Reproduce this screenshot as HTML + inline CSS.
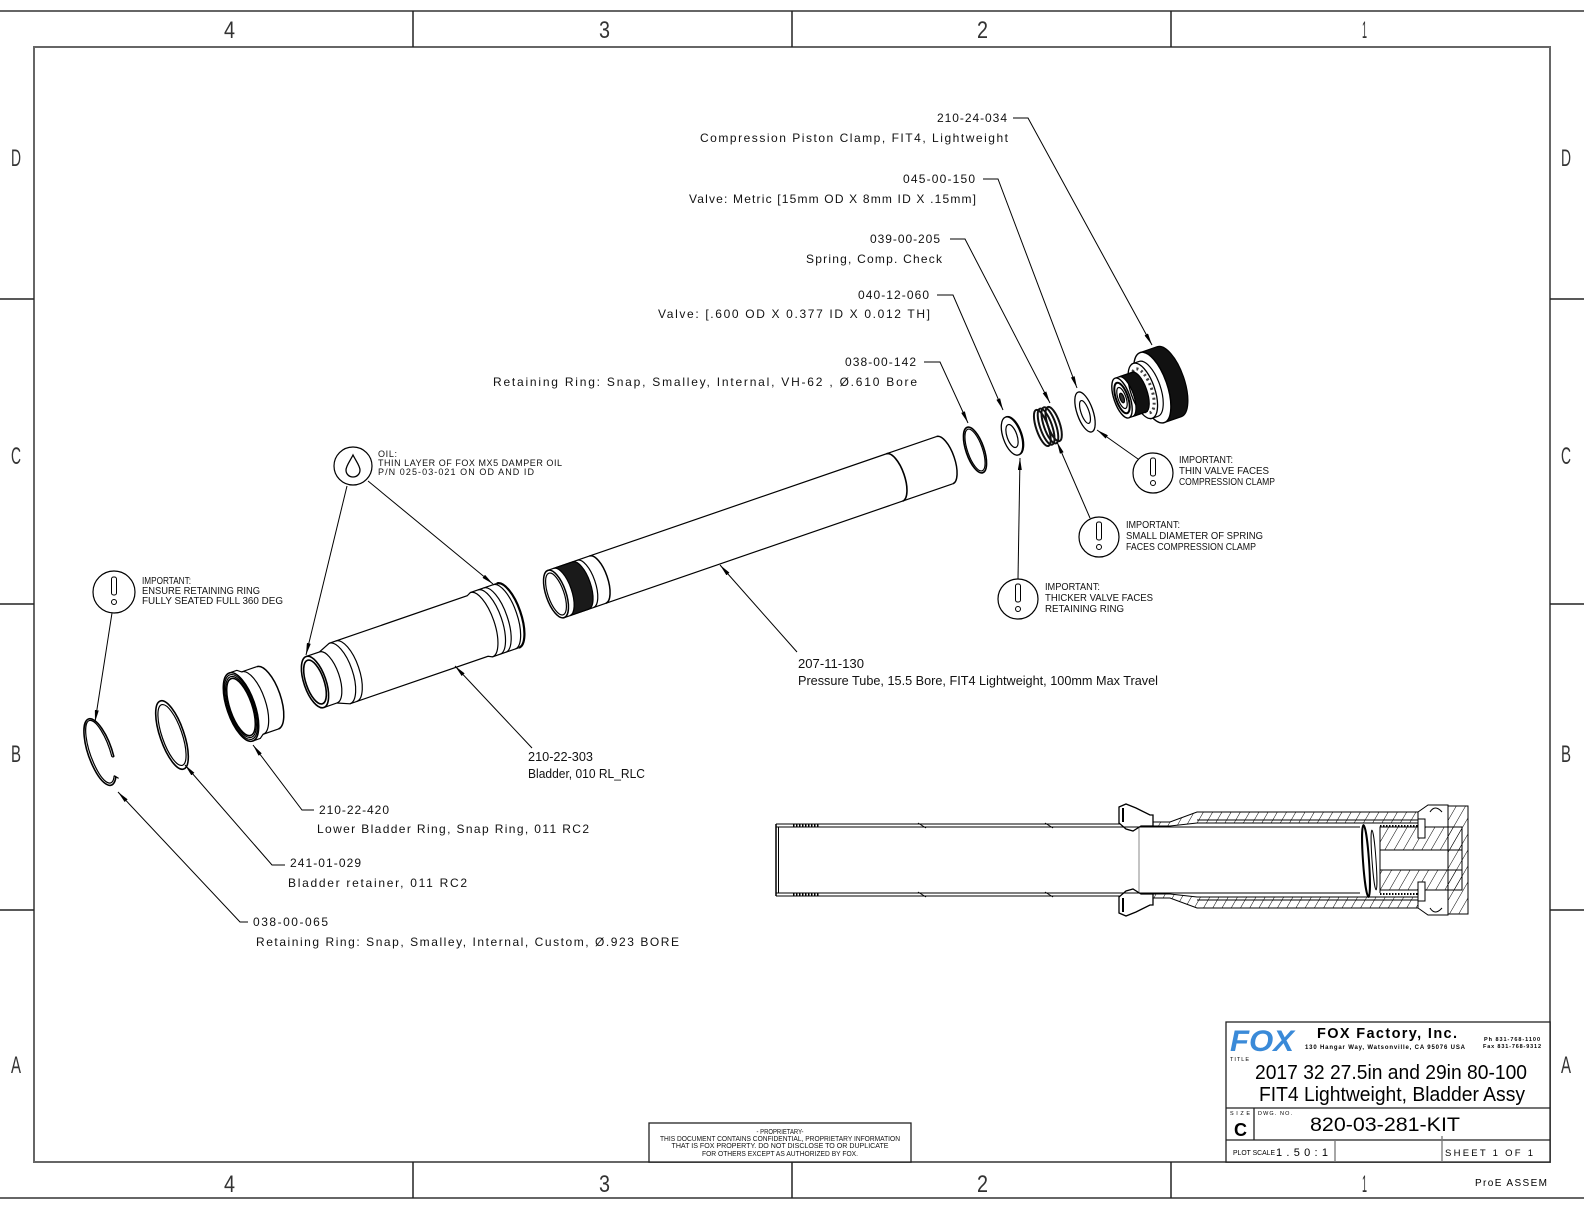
<!DOCTYPE html>
<html><head><meta charset="utf-8"><style>
html,body{margin:0;padding:0;background:#fff;}
svg{display:block;}
.m{font-family:"Liberation Sans",sans-serif;font-size:12px;fill:#111;}
.b{font-family:"Liberation Sans",sans-serif;font-size:10px;fill:#111;}
.o{font-family:"Liberation Sans",sans-serif;font-size:9px;fill:#111;}
.y{font-family:"Liberation Sans",sans-serif;font-size:13px;fill:#111;}
.lab{font-family:"Liberation Sans",sans-serif;font-size:24px;fill:#333;}
</style></head><body>
<svg width="1584" height="1224" viewBox="0 0 1584 1224" xmlns="http://www.w3.org/2000/svg">
<defs>
<marker id="ah" viewBox="0 0 12 4" refX="12" refY="2" markerWidth="12" markerHeight="4" orient="auto" markerUnits="userSpaceOnUse"><path d="M0,0 L12,2 L0,4 Z" fill="#000"/></marker>
<pattern id="hatch" width="8" height="8" patternUnits="userSpaceOnUse" patternTransform="rotate(30)"><line x1="0" y1="0" x2="0" y2="8" stroke="#000" stroke-width="1"/></pattern>
</defs>
<rect width="1584" height="1224" fill="#fff"/>

<!-- Frame -->
<g stroke="#666" stroke-width="2" fill="none">
<line x1="0" y1="11" x2="1584" y2="11"/>
<line x1="0" y1="1198" x2="1584" y2="1198"/>
<rect x="34" y="47" width="1516" height="1115"/>
</g>
<g stroke="#222" stroke-width="1.5">
<line x1="413" y1="11" x2="413" y2="47"/><line x1="792" y1="11" x2="792" y2="47"/><line x1="1171" y1="11" x2="1171" y2="47"/>
<line x1="413" y1="1162" x2="413" y2="1198"/><line x1="792" y1="1162" x2="792" y2="1198"/><line x1="1171" y1="1162" x2="1171" y2="1198"/>
<line x1="0" y1="299" x2="34" y2="299"/><line x1="0" y1="604" x2="34" y2="604"/><line x1="0" y1="910" x2="34" y2="910"/>
<line x1="1550" y1="299" x2="1584" y2="299"/><line x1="1550" y1="604" x2="1584" y2="604"/><line x1="1550" y1="910" x2="1584" y2="910"/>
</g>
<g class="lab">
<text x="224" y="38" textLength="11" lengthAdjust="spacingAndGlyphs" class="lab">4</text>
<text x="599" y="38" textLength="11" lengthAdjust="spacingAndGlyphs" class="lab">3</text>
<text x="977" y="38" textLength="11" lengthAdjust="spacingAndGlyphs" class="lab">2</text>
<text x="1362" y="38" textLength="5" lengthAdjust="spacingAndGlyphs" class="lab">1</text>
<text x="224" y="1192" textLength="11" lengthAdjust="spacingAndGlyphs" class="lab">4</text>
<text x="599" y="1192" textLength="11" lengthAdjust="spacingAndGlyphs" class="lab">3</text>
<text x="977" y="1192" textLength="11" lengthAdjust="spacingAndGlyphs" class="lab">2</text>
<text x="1362" y="1192" textLength="5" lengthAdjust="spacingAndGlyphs" class="lab">1</text>
<text x="11" y="166" textLength="10" lengthAdjust="spacingAndGlyphs" class="lab">D</text>
<text x="11" y="464" textLength="10" lengthAdjust="spacingAndGlyphs" class="lab">C</text>
<text x="11" y="762" textLength="10" lengthAdjust="spacingAndGlyphs" class="lab">B</text>
<text x="11" y="1073" textLength="10" lengthAdjust="spacingAndGlyphs" class="lab">A</text>
<text x="1561" y="166" textLength="10" lengthAdjust="spacingAndGlyphs" class="lab">D</text>
<text x="1561" y="464" textLength="10" lengthAdjust="spacingAndGlyphs" class="lab">C</text>
<text x="1561" y="762" textLength="10" lengthAdjust="spacingAndGlyphs" class="lab">B</text>
<text x="1561" y="1073" textLength="10" lengthAdjust="spacingAndGlyphs" class="lab">A</text>
</g>

<!-- Upper labels -->
<text class="m" x="1007" y="122" text-anchor="end" textLength="70" lengthAdjust="spacing">210-24-034</text>
<text class="m" x="1008" y="142" text-anchor="end" textLength="308" lengthAdjust="spacing">Compression Piston Clamp, FIT4, Lightweight</text>
<text class="m" x="975" y="183" text-anchor="end" textLength="72" lengthAdjust="spacing">045-00-150</text>
<text class="m" x="976" y="203" text-anchor="end" textLength="287" lengthAdjust="spacing">Valve: Metric [15mm OD X 8mm ID X .15mm]</text>
<text class="m" x="940" y="243" text-anchor="end" textLength="70" lengthAdjust="spacing">039-00-205</text>
<text class="m" x="942" y="263" text-anchor="end" textLength="136" lengthAdjust="spacing">Spring, Comp. Check</text>
<text class="m" x="929" y="299" text-anchor="end" textLength="71" lengthAdjust="spacing">040-12-060</text>
<text class="m" x="930" y="318" text-anchor="end" textLength="272" lengthAdjust="spacing">Valve: [.600 OD X 0.377 ID X 0.012 TH]</text>
<text class="m" x="916" y="366" text-anchor="end" textLength="71" lengthAdjust="spacing">038-00-142</text>
<text class="m" x="917" y="386" text-anchor="end" textLength="424" lengthAdjust="spacing">Retaining Ring: Snap, Smalley, Internal, VH-62 , Ø.610 Bore</text>

<!-- Lower-left labels -->
<text class="m" x="319" y="814" textLength="70" lengthAdjust="spacing">210-22-420</text>
<text class="m" x="317" y="833" textLength="272" lengthAdjust="spacing">Lower Bladder Ring, Snap Ring, 011 RC2</text>
<text class="m" x="290" y="867" textLength="71" lengthAdjust="spacing">241-01-029</text>
<text class="m" x="288" y="887" textLength="179" lengthAdjust="spacing">Bladder retainer, 011 RC2</text>
<text class="m" x="253" y="926" textLength="75" lengthAdjust="spacing">038-00-065</text>
<text class="m" x="256" y="946" textLength="423" lengthAdjust="spacing">Retaining Ring: Snap, Smalley, Internal, Custom, Ø.923 BORE</text>

<text class="y" x="798" y="668" textLength="66" lengthAdjust="spacingAndGlyphs">207-11-130</text>
<text class="y" x="798" y="685" textLength="360" lengthAdjust="spacingAndGlyphs">Pressure Tube, 15.5 Bore, FIT4 Lightweight, 100mm Max Travel</text>
<text class="y" x="528" y="761" textLength="65" lengthAdjust="spacingAndGlyphs">210-22-303</text>
<text class="y" x="528" y="778" textLength="117" lengthAdjust="spacingAndGlyphs">Bladder, 010 RL_RLC</text>

<!-- Parts -->
<g stroke="#000" stroke-width="1.2" fill="none">
<!-- pressure tube -->
<g transform="translate(556,594) rotate(-19)">
<path d="M0,-25 L411,-25 M0,25 L411,25"/>
<path d="M411,-25 A10,25 0 0 1 411,25" stroke-width="1.5"/>
<path d="M358,-25 A10,25 0 0 1 358,25" stroke-width="1.6"/>
<path d="M6,-25 L26,-25 A10,25 0 0 1 26,25 L6,25 A10,25 0 0 0 6,-25 Z" fill="#1a1a1a"/>
<path d="M31,-25 A10,25 0 0 1 31,25"/>
<path d="M44,-25 A10,25 0 0 1 44,25" stroke-width="1.5"/>
<ellipse cx="0" cy="0" rx="10" ry="25" fill="#fff" stroke-width="1.5"/>
<ellipse cx="0" cy="0" rx="8" ry="22"/>
</g>
<!-- bladder -->
<g transform="translate(315,682) rotate(-19)">
<path d="M0,-27 L14,-27 L26,-32 L172,-32 L176,-34 L204,-34 M0,27 L14,27 L26,32 L172,32 L176,34 L204,34"/>
<path d="M14,-27 A11,27 0 0 1 14,27"/>
<path d="M26,-32 A13,32 0 0 1 26,32"/>
<path d="M33,-32 A13,32 0 0 1 33,32"/>
<path d="M176,-34 A13,34 0 0 1 176,34"/>
<path d="M184,-34 A13,34 0 0 1 184,34"/>
<path d="M190,-34 A13,34 0 0 1 190,34"/>
<path d="M200,-34 A13,34 0 0 1 200,34"/>
<path d="M204,-34 A13,34 0 0 1 204,34" stroke-width="2.2"/>
<ellipse cx="0" cy="0" rx="11" ry="27" fill="#fff" stroke-width="1.6"/>
<ellipse cx="0" cy="0" rx="9" ry="23" stroke-width="1.6"/>
</g>
<!-- lower bladder ring -->
<g transform="translate(241,707) rotate(-19)">
<path d="M0,-36 L8,-36 L12,-33 L28,-33 M0,36 L8,36 L12,33 L28,33"/>
<path d="M28,-33 A13,33 0 0 1 28,33" stroke-width="1.5"/>
<path d="M12,-33 A13,33 0 0 1 12,33"/>
<ellipse cx="0" cy="0" rx="14" ry="36" fill="#fff" stroke-width="1.6"/>
<ellipse cx="0" cy="0" rx="13" ry="34"/>
<ellipse cx="0" cy="0" rx="12" ry="32"/>
<ellipse cx="0" cy="0" rx="11" ry="30" stroke-width="1.5"/>
</g>
<!-- bladder retainer -->
<g transform="translate(172,735) rotate(-19)">
<ellipse cx="0" cy="0" rx="12" ry="36" stroke-width="1.6"/>
<ellipse cx="0" cy="0" rx="10" ry="32"/>
</g>
<!-- retaining ring -->
<g transform="translate(100,752) rotate(-19)">
<path d="M6.9,28.7 A12,35 0 1 1 11.6,9.1" stroke-width="1.6"/>
<path d="M5.7,27 A10,33 0 1 1 9.7,8.5"/>
<path d="M11.6,9.1 L9.7,8.5 M6.9,28.7 L5.7,27 L9,31"/>
</g>
<!-- 038-00-142 ring -->
<g transform="translate(975,450) rotate(-19)">
<ellipse cx="0" cy="0" rx="9" ry="24" stroke-width="1.6"/>
<ellipse cx="0" cy="0" rx="7.5" ry="22"/>
</g>
<!-- 040-12-060 valve -->
<g transform="translate(1012,436) rotate(-19)">
<ellipse cx="1" cy="0" rx="9" ry="20" stroke-width="1.3"/>
<ellipse cx="0" cy="0" rx="9" ry="20" fill="#fff" stroke-width="1.3"/>
<ellipse cx="0" cy="0" rx="5" ry="12"/>
</g>
<!-- spring -->
<g transform="translate(1048,426) rotate(-19)" stroke="#111" stroke-width="2">
<ellipse cx="-6" cy="0" rx="6" ry="19"/>
<ellipse cx="-2" cy="0" rx="6" ry="19"/>
<ellipse cx="2" cy="0" rx="6" ry="19"/>
<ellipse cx="6" cy="0" rx="6" ry="18"/>
</g>
<!-- 045 valve -->
<g transform="translate(1085,412) rotate(-19)">
<ellipse cx="0" cy="0" rx="8" ry="21" fill="#fff" stroke-width="1.3"/>
<ellipse cx="0" cy="0" rx="4" ry="12"/>
</g>
<!-- compression clamp -->
<g transform="translate(1122,398) rotate(-19)">
<path d="M32,-37 L50,-37 A15,37 0 0 1 50,37 L32,37 A15,37 0 0 0 32,-37 Z" fill="#111"/>
<ellipse cx="32" cy="0" rx="15" ry="37" fill="#fff" stroke-width="1.4"/>
<path d="M20,-29 L28,-29 M20,29 L28,29"/>
<path d="M28,-29 A12,29 0 0 1 28,29"/>
<ellipse cx="22" cy="0" rx="12" ry="29" fill="#fff" stroke-width="1.3"/>
<ellipse cx="22" cy="0" rx="9" ry="23" stroke="#444" stroke-width="3" stroke-dasharray="2,3"/>
<path d="M4,-21 L18,-21 A8,21 0 0 1 18,21 L4,21 A8,21 0 0 0 4,-21 Z" fill="#111"/>
<path d="M0,-21 L20,-21 M0,21 L20,21"/>
<ellipse cx="0" cy="0" rx="8" ry="21" fill="#fff" stroke-width="1.4"/>
<ellipse cx="0" cy="0" rx="6" ry="16" stroke-width="2"/>
<ellipse cx="0" cy="0" rx="4" ry="11"/>
<ellipse cx="0" cy="0" rx="2" ry="5" fill="#333"/>
</g>
</g>

<!-- Leaders -->
<g stroke="#000" stroke-width="1" fill="none">
<path d="M1013,118 H1028 L1152,345" marker-end="url(#ah)"/>
<path d="M983,179 H998 L1077,388" marker-end="url(#ah)"/>
<path d="M950,239 H965 L1050,403" marker-end="url(#ah)"/>
<path d="M937,295 H953 L1003,410" marker-end="url(#ah)"/>
<path d="M924,362 H940 L968,423" marker-end="url(#ah)"/>
<path d="M314,810 H302 L253,745" marker-end="url(#ah)"/>
<path d="M285,865 H272 L185,765" marker-end="url(#ah)"/>
<path d="M248,922 H240 L118,792" marker-end="url(#ah)"/>
<path d="M797,652 L720,565" marker-end="url(#ah)"/>
<path d="M532,748 L455,666" marker-end="url(#ah)"/>
<path d="M112,613 L95,722" marker-end="url(#ah)"/>
<path d="M347,486 L306,655" marker-end="url(#ah)"/>
<path d="M368,481 L493,584" marker-end="url(#ah)"/>
<path d="M1138,459 L1097,430" marker-end="url(#ah)"/>
<path d="M1090,518 L1057,442" marker-end="url(#ah)"/>
<path d="M1018,579 L1020,458" marker-end="url(#ah)"/>
</g>

<!-- Bubbles -->
<g stroke="#000" stroke-width="1.2" fill="#fff">
<circle cx="114" cy="592" r="21"/>
<circle cx="353" cy="466" r="19"/>
<circle cx="1153" cy="473" r="20"/>
<circle cx="1099" cy="537" r="20"/>
<circle cx="1018" cy="599" r="20"/>
</g>
<g stroke="#000" stroke-width="1" fill="none">
<rect x="111.5" y="577" width="5" height="18" rx="2"/><circle cx="114" cy="602" r="2.5"/>
<rect x="1150.5" y="458" width="5" height="18" rx="2"/><circle cx="1153" cy="483" r="2.5"/>
<rect x="1096.5" y="522" width="5" height="18" rx="2"/><circle cx="1099" cy="547" r="2.5"/>
<rect x="1015.5" y="584" width="5" height="18" rx="2"/><circle cx="1018" cy="609" r="2.5"/>
<path d="M353,455 C350,461 346,466 346,470 C346,474 349,477 353,477 C357,477 360,474 360,470 C360,466 356,461 353,455 Z" stroke-width="1.3"/>
</g>
<text class="b" x="142" y="584" textLength="49" lengthAdjust="spacingAndGlyphs">IMPORTANT:</text>
<text class="b" x="142" y="594" textLength="118" lengthAdjust="spacingAndGlyphs">ENSURE RETAINING RING</text>
<text class="b" x="142" y="604" textLength="141" lengthAdjust="spacingAndGlyphs">FULLY SEATED FULL 360 DEG</text>
<text class="o" x="378" y="457" textLength="19" lengthAdjust="spacing">OIL:</text>
<text class="o" x="378" y="466" textLength="184" lengthAdjust="spacing">THIN LAYER OF FOX MX5 DAMPER OIL</text>
<text class="o" x="378" y="475" textLength="156" lengthAdjust="spacing">P/N 025-03-021 ON OD AND ID</text>
<text class="b" x="1179" y="463" textLength="54" lengthAdjust="spacingAndGlyphs">IMPORTANT:</text>
<text class="b" x="1179" y="474" textLength="90" lengthAdjust="spacingAndGlyphs">THIN VALVE FACES</text>
<text class="b" x="1179" y="485" textLength="96" lengthAdjust="spacingAndGlyphs">COMPRESSION CLAMP</text>
<text class="b" x="1126" y="528" textLength="54" lengthAdjust="spacingAndGlyphs">IMPORTANT:</text>
<text class="b" x="1126" y="539" textLength="137" lengthAdjust="spacingAndGlyphs">SMALL DIAMETER OF SPRING</text>
<text class="b" x="1126" y="550" textLength="130" lengthAdjust="spacingAndGlyphs">FACES COMPRESSION CLAMP</text>
<text class="b" x="1045" y="590" textLength="55" lengthAdjust="spacingAndGlyphs">IMPORTANT:</text>
<text class="b" x="1045" y="601" textLength="108" lengthAdjust="spacingAndGlyphs">THICKER VALVE FACES</text>
<text class="b" x="1045" y="612" textLength="79" lengthAdjust="spacingAndGlyphs">RETAINING RING</text>

<!-- Cross-section -->
<g stroke="#000" stroke-width="1" fill="none">
<line x1="776" y1="824" x2="1120" y2="824"/>
<line x1="776" y1="827" x2="1360" y2="827"/>
<line x1="776" y1="896" x2="1120" y2="896"/>
<line x1="776" y1="893" x2="1360" y2="893"/>
<line x1="776" y1="824" x2="776" y2="896" stroke-width="1.5"/>
<line x1="778.5" y1="827" x2="778.5" y2="893"/>
<line x1="1139" y1="827" x2="1139" y2="893" stroke="#888"/>
<line x1="793" y1="825.5" x2="820" y2="825.5" stroke-dasharray="1.5,1.5" stroke-width="2"/>
<line x1="793" y1="894.5" x2="820" y2="894.5" stroke-dasharray="1.5,1.5" stroke-width="2"/>
<line x1="820" y1="824" x2="855" y2="824"/>
<path d="M918,823 l8,5 M1045,823 l8,5 M918,892 l8,5 M1045,892 l8,5"/>
<path d="M1153,822 L1170,822 L1197,812 L1418,812 L1418,823 L1197,823 L1170,826 L1153,826 Z" fill="url(#hatch)"/>
<path d="M1153,898 L1170,898 L1197,908 L1418,908 L1418,897 L1197,897 L1170,894 L1153,894 Z" fill="url(#hatch)"/>
<line x1="1197" y1="820" x2="1418" y2="820"/>
<line x1="1197" y1="900" x2="1418" y2="900"/>
<path d="M1119,807 L1126,804 L1136,808 L1150,815 L1153,815 L1153,826 L1141,826 L1133,831 L1126,829 L1119,823 Z" stroke-width="1.3"/>
<path d="M1123,808 L1123,822" stroke-width="2"/>
<path d="M1119,913 L1126,916 L1136,912 L1150,905 L1153,905 L1153,894 L1141,894 L1133,889 L1126,891 L1119,897 Z" stroke-width="1.3"/>
<path d="M1123,912 L1123,898" stroke-width="2"/>
<rect x="1380" y="827" width="82" height="23" fill="url(#hatch)"/>
<rect x="1380" y="870" width="82" height="20" fill="url(#hatch)"/>
<line x1="1380" y1="827" x2="1380" y2="893"/>
<line x1="1380" y1="826" x2="1418" y2="826" stroke-dasharray="1.5,1.5" stroke-width="2"/>
<line x1="1380" y1="894" x2="1418" y2="894" stroke-dasharray="1.5,1.5" stroke-width="2"/>
<path d="M1418,812 L1428,805 L1448,805 L1448,915 L1428,915 L1418,908"/>
<rect x="1448" y="806" width="20" height="108" fill="url(#hatch)"/>
<line x1="1462" y1="840" x2="1462" y2="880"/>
<rect x="1418" y="819" width="7" height="19" fill="#fff"/>
<rect x="1418" y="882" width="7" height="19" fill="#fff"/>
<path d="M1430,812 q5,-8 12,0 M1430,908 q5,8 12,0"/>
<ellipse cx="1366" cy="861" rx="3" ry="36" transform="rotate(-4 1366 861)" stroke-width="2"/>
<ellipse cx="1374" cy="860" rx="2" ry="30" transform="rotate(-4 1374 860)"/>
</g>

<!-- Proprietary box -->
<rect x="649" y="1123" width="262" height="39" fill="#fff" stroke="#222" stroke-width="1.3"/>
<g font-family="Liberation Sans, sans-serif" font-size="7" fill="#111" text-anchor="middle">
<text x="780" y="1134" textLength="47" lengthAdjust="spacingAndGlyphs">- PROPRIETARY-</text>
<text x="780" y="1141" textLength="240" lengthAdjust="spacingAndGlyphs">THIS DOCUMENT CONTAINS CONFIDENTIAL, PROPRIETARY INFORMATION</text>
<text x="780" y="1148" textLength="217" lengthAdjust="spacingAndGlyphs">THAT IS FOX PROPERTY.  DO NOT DISCLOSE TO OR DUPLICATE</text>
<text x="780" y="1156" textLength="156" lengthAdjust="spacingAndGlyphs">FOR OTHERS EXCEPT AS AUTHORIZED BY FOX.</text>
</g>

<!-- Title block -->
<g stroke="#222" stroke-width="1.3" fill="none">
<rect x="1226" y="1022" width="324" height="140" fill="#fff"/>
<line x1="1226" y1="1108" x2="1550" y2="1108"/>
<line x1="1226" y1="1140" x2="1550" y2="1140"/>
<line x1="1254" y1="1108" x2="1254" y2="1140"/>
<line x1="1335" y1="1140" x2="1335" y2="1162" stroke="#777"/>
<line x1="1442" y1="1136" x2="1442" y2="1162" stroke="#777"/>
</g>
<text x="1230" y="1051" font-family="Liberation Sans, sans-serif" font-size="30" font-weight="bold" font-style="italic" fill="#3a8ad8" textLength="64" lengthAdjust="spacingAndGlyphs">FOX</text>
<text x="1317" y="1038" font-family="Liberation Sans, sans-serif" font-size="14.5" font-weight="bold" fill="#000" textLength="140" lengthAdjust="spacing">FOX  Factory,  Inc.</text>
<text x="1305" y="1049" font-family="Liberation Sans, sans-serif" font-size="6" font-weight="bold" fill="#000" textLength="160" lengthAdjust="spacing">130 Hangar Way, Watsonville, CA 95076 USA</text>
<text x="1484" y="1041" font-family="Liberation Sans, sans-serif" font-size="5.5" font-weight="bold" fill="#000" textLength="56" lengthAdjust="spacing">Ph 831-768-1100</text>
<text x="1483" y="1048" font-family="Liberation Sans, sans-serif" font-size="5.5" font-weight="bold" fill="#000" textLength="58" lengthAdjust="spacing">Fax 831-768-9312</text>
<text x="1230" y="1061" font-family="Liberation Sans, sans-serif" font-size="5.5" fill="#000" textLength="19" lengthAdjust="spacing">TITLE</text>
<text x="1255" y="1079" font-family="Liberation Sans, sans-serif" font-size="20" fill="#000" textLength="272" lengthAdjust="spacingAndGlyphs">2017 32 27.5in and 29in 80-100</text>
<text x="1259" y="1101" font-family="Liberation Sans, sans-serif" font-size="20" fill="#000" textLength="266" lengthAdjust="spacingAndGlyphs">FIT4 Lightweight, Bladder Assy</text>
<text x="1230" y="1115" font-family="Liberation Sans, sans-serif" font-size="5.5" fill="#000" textLength="20" lengthAdjust="spacing">SIZE</text>
<text x="1234" y="1136" font-family="Liberation Sans, sans-serif" font-size="18" font-weight="bold" fill="#000">C</text>
<text x="1258" y="1115" font-family="Liberation Sans, sans-serif" font-size="5.5" fill="#000" textLength="34" lengthAdjust="spacing">DWG. NO.</text>
<text x="1310" y="1131" font-family="Liberation Sans, sans-serif" font-size="19" fill="#000" textLength="150" lengthAdjust="spacingAndGlyphs">820-03-281-KIT</text>
<text x="1233" y="1155" font-family="Liberation Sans, sans-serif" font-size="7" fill="#000" textLength="42" lengthAdjust="spacingAndGlyphs">PLOT SCALE</text>
<text x="1276" y="1156" font-family="Liberation Sans, sans-serif" font-size="11" fill="#000" textLength="52" lengthAdjust="spacing">1.50:1</text>
<text x="1445" y="1156" font-family="Liberation Sans, sans-serif" font-size="9.5" fill="#000" textLength="88" lengthAdjust="spacing">SHEET 1 OF 1</text>
<text x="1475" y="1186" font-family="Liberation Sans, sans-serif" font-size="10" fill="#000" textLength="72" lengthAdjust="spacing">ProE ASSEM</text>
</svg>
</body></html>
